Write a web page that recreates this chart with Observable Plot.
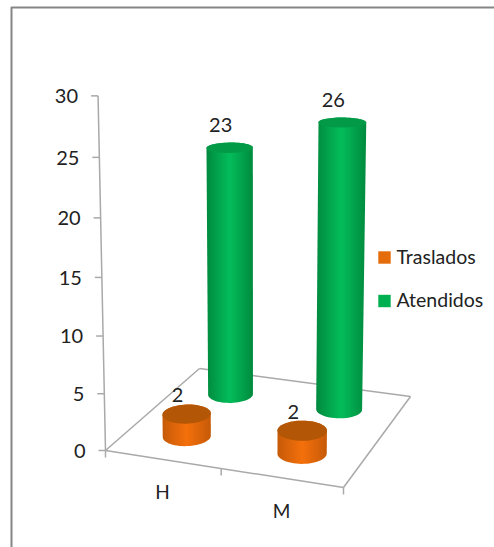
<!DOCTYPE html>
<html>
<head>
<meta charset="utf-8">
<style>html,body{margin:0;padding:0;background:#fff}svg{display:block}</style>
<script src="https://cdn.jsdelivr.net/npm/d3@7"></script>
<script src="https://cdn.jsdelivr.net/npm/@observablehq/plot@0.6"></script>
</head>
<body>
<script>
// Chart data
const categories = ["H", "M"];
const seriesNames = ["Traslados", "Atendidos"];
const traslados = [2, 2];
const atendidos = [23, 26];
const valueTicks = [0, 5, 10, 15, 20, 25, 30];

const orange = "#e46c0a", green = "#00b050";
const axisGray = "#a9a9a9", ink = "#222";

// Perspective camera for the 3D scene. Floor corners give a square-to-quad
// homography; the value axis supplies the vertical column.
function floorHomography([p0, p1, p2, p3]) {
  const dx1 = p1[0] - p2[0], dx2 = p3[0] - p2[0], sx = p0[0] - p1[0] + p2[0] - p3[0];
  const dy1 = p1[1] - p2[1], dy2 = p3[1] - p2[1], sy = p0[1] - p1[1] + p2[1] - p3[1];
  const det = dx1 * dy2 - dx2 * dy1;
  const g = (sx * dy2 - dx2 * sy) / det, h = (dx1 * sy - sx * dy1) / det;
  return {
    a: p1[0] - p0[0] + g * p1[0], b: p3[0] - p0[0] + h * p3[0], d: p0[0],
    e: p1[1] - p0[1] + g * p1[1], f: p3[1] - p0[1] + h * p3[1], k: p0[1], g, h
  };
}
// corners: front-left, front-right, back-right, back-left
const cam = floorHomography([[105, 450], [343, 487], [410, 396], [199, 368]]);
const lean = {cx: -0.4, cy: -11.97, i: -0.00156};

// u: 0..2 along the categories, w: 0..1 into the depth, v: value
function project(u, w, v) {
  const s = u / 2;
  const den = cam.g * s + cam.h * w + lean.i * v + 1;
  return [
    (cam.a * s + cam.b * w + cam.d + lean.cx * v) / den,
    (cam.e * s + cam.f * w + cam.k + lean.cy * v) / den
  ];
}

const R_U = 0.196, R_W = 0.104;
const angles = d3.range(0, 360, 6).map((a) => (a * Math.PI) / 180);
const ring = (u, w, v) => angles.map((t) => project(u + R_U * Math.cos(t), w + R_W * Math.sin(t), v));

function cylinder(u, w, value) {
  const top = ring(u, w, value), base = ring(u, w, 0);
  // lower half of the base joined to the upper half of the top gives the side silhouette
  const ext = (pts) => [d3.least(pts, (p) => p[0]), d3.greatest(pts, (p) => p[0])];
  const [tl, tr] = ext(top), [bl, br] = ext(base);
  const below = base.filter((p) => p[1] >= bl[1] + (br[1] - bl[1]) * (p[0] - bl[0]) / (br[0] - bl[0]))
    .sort((p, q) => q[0] - p[0]);
  const above = top.filter((p) => p[1] <= tl[1] + (tr[1] - tl[1]) * (p[0] - tl[0]) / (tr[0] - tl[0]))
    .sort((p, q) => p[0] - q[0]);
  return {side: [br, ...below, bl, tl, ...above, tr], top};
}

const depth = {Traslados: 0.25, Atendidos: 0.75};
const bars = [];
seriesNames.forEach((name, si) => {
  const values = si === 0 ? traslados : atendidos;
  categories.forEach((cat, ci) => {
    bars.push({name, cat, value: values[ci], u: ci + 0.5, w: depth[name]});
  });
});
const drawOrder = [...bars].sort((a, b) => b.w - a.w);

const cylMarks = drawOrder.flatMap((b) => {
  const c = cylinder(b.u, b.w, b.value);
  const isGreen = b.name === "Atendidos";
  return [
    Plot.line(c.side, {x: "0", y: "1", curve: "linear-closed", stroke: "none",
      fill: isGreen ? "url(#bodyGreen)" : "url(#bodyOrange)"}),
    Plot.line(c.top, {x: "0", y: "1", curve: "linear-closed", stroke: "none",
      fill: isGreen ? "#029a47" : "#b35707"})
  ];
});

const gradientDefs = () => {
  const defs = d3.create("svg:defs");
  [["bodyGreen", "#008a3e", "#03bd5a"], ["bodyOrange", "#c65a08", "#f4700b"]].forEach(([id, edge, mid]) => {
    const g = defs.append("linearGradient").attr("id", id);
    [[0, edge], [0.5, mid], [1, edge]].forEach(([o, c]) =>
      g.append("stop").attr("offset", o).attr("stop-color", c));
  });
  return defs.node();
};

const floorEdges = [
  [[0, 0], [2, 0]], [[2, 0], [2, 1]], [[2, 1], [0, 1]], [[0, 1], [0, 0]]
].map(([a, b]) => ({from: project(a[0], a[1], 0), to: project(b[0], b[1], 0)}));

const axisTicks = valueTicks.map((v) => ({v, p: project(0, 0, v)}));
const catTicks = [0, 1, 2].map((u) => project(u, 0, 0));
const legend = seriesNames.map((name, i) => ({name, i}));

// value label anchored on the top of its cylinder
const valueLabel = (rows, dy) => Plot.text(rows, {
  x: (d) => project(d.u, d.w, d.value)[0], y: (d) => project(d.u, d.w, d.value)[1],
  text: (d) => String(d.value), dx: -9, dy, fontSize: 20, fill: ink
});

const chart = Plot.plot({
  width: 494, height: 547, margin: 0,
  x: {domain: [0, 494], range: [0, 494], axis: null},
  y: {domain: [0, 547], range: [0, 547], axis: null},
  style: {fontFamily: "Lato, sans-serif", background: "#fff"},
  marks: [
    gradientDefs,
    // outer frame: left and top edges only
    Plot.line([[11, 547], [11, 7], [494, 7]], {x: "0", y: "1", stroke: "#858585", strokeWidth: 2}),
    // floor outline, value axis, tick marks
    Plot.link(floorEdges, {x1: (d) => d.from[0], y1: (d) => d.from[1], x2: (d) => d.to[0], y2: (d) => d.to[1],
      stroke: axisGray, strokeWidth: 1.5}),
    Plot.link([0], {x1: () => project(0, 0, 0)[0], y1: () => project(0, 0, 0)[1],
      x2: () => project(0, 0, 30)[0], y2: () => project(0, 0, 30)[1], stroke: axisGray, strokeWidth: 1.5}),
    Plot.link(axisTicks, {x1: (d) => d.p[0] - 7, y1: (d) => d.p[1], x2: (d) => d.p[0], y2: (d) => d.p[1],
      stroke: axisGray, strokeWidth: 1.5}),
    Plot.link(catTicks, {x1: "0", y1: "1", x2: "0", y2: (d) => d[1] + 7, stroke: axisGray, strokeWidth: 1.5}),
    Plot.text(axisTicks, {x: (d) => d.p[0], y: (d) => d.p[1], text: (d) => String(d.v), dx: -20, dy: 1, textAnchor: "end",
      fontSize: 20, fill: ink}),
    ...cylMarks,
    valueLabel(bars.filter((d) => d.name === "Atendidos"), -22),
    valueLabel(bars.filter((d) => d.name === "Traslados"), -18),
    // category labels below the front edge
    Plot.text(categories, {x: (d, i) => project(i + 0.5, 0, 0)[0], y: (d, i) => project(i + 0.5, 0, 0)[1],
      text: (d) => d, dy: 34, fontSize: 19, fill: ink}),
    // legend
    Plot.dot(legend, {x: () => 384, y: (d) => 257 + d.i * 43.5, symbol: "square", r: 7,
      fill: (d) => (d.i === 0 ? orange : green)}),
    Plot.text(legend, {x: () => 396, y: (d) => 257 + d.i * 43.5, text: "name", textAnchor: "start",
      fontSize: 19.5, fill: ink})
  ]
});
document.body.appendChild(chart);
</script>
</body>
</html>
